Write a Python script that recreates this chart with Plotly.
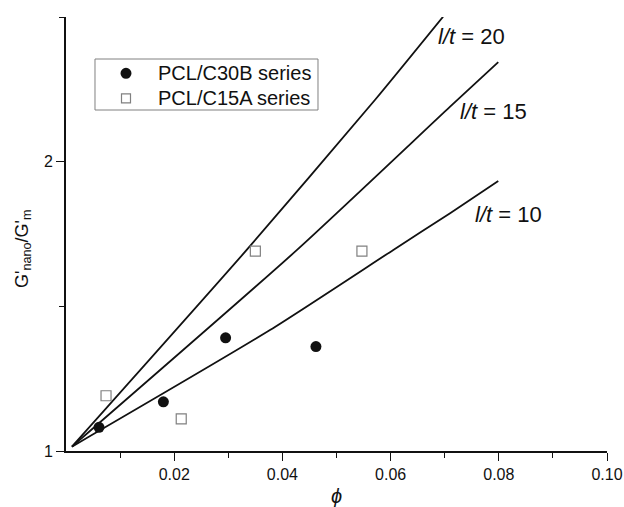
import plotly.graph_objects as go

# Data
c30b_phi = [0.0061, 0.0180, 0.0295, 0.0462]
c30b_g = [1.082, 1.170, 1.391, 1.361]

c15a_phi = [0.0074, 0.0213, 0.0350, 0.0547]
c15a_g = [1.191, 1.111, 1.691, 1.691]

lt10_phi = [0.0011, 0.0377, 0.0605, 0.0710, 0.0799]
lt10_g = [1.015, 1.418, 1.695, 1.822, 1.933]

lt15_phi = [0.0011, 0.0427, 0.0710, 0.0799]
lt15_g = [1.015, 1.695, 2.190, 2.344]

lt20_phi = [0.0011, 0.0334, 0.0571, 0.0697]
lt20_g = [1.015, 1.695, 2.213, 2.501]

line_labels = ["<i>l/t</i> = 20", "<i>l/t</i> = 15", "<i>l/t</i> = 10"]
label_phi = [0.0683, 0.0725, 0.0753]
label_g = [2.434, 2.175, 1.819]

series_names = ["PCL/C30B series", "PCL/C15A series"]

x_tickvals = [0.02, 0.04, 0.06, 0.08, 0.10]
x_ticktext = ["0.02", "0.04", "0.06", "0.08", "0.10"]
y_tickvals = [1, 2]
y_ticktext = ["1", "2"]

FONT = "Arial, Liberation Sans, sans-serif"
INK = "#111111"
GREY = "#808080"

fig = go.Figure()

for xs, ys in [(lt20_phi, lt20_g), (lt15_phi, lt15_g), (lt10_phi, lt10_g)]:
    fig.add_trace(go.Scatter(x=xs, y=ys, mode="lines",
                             line=dict(color=INK, width=1.8, shape="spline", smoothing=0.6),
                             showlegend=False, hoverinfo="skip"))

fig.add_trace(go.Scatter(x=c30b_phi, y=c30b_g, mode="markers",
                         name=series_names[0], showlegend=False,
                         marker=dict(symbol="circle", size=11, color=INK)))
fig.add_trace(go.Scatter(x=c15a_phi, y=c15a_g, mode="markers",
                         name=series_names[1], showlegend=False,
                         marker=dict(symbol="square-open", size=10, color=GREY,
                                     line=dict(width=1.2, color=GREY))))

for t, xx, yy in zip(line_labels, label_phi, label_g):
    fig.add_annotation(x=xx, y=yy, text=t, showarrow=False, xanchor="left",
                       yanchor="middle", font=dict(family=FONT, size=22, color=INK))

# y axis title as rotated annotation
fig.add_annotation(xref="paper", yref="paper", x=-0.080, y=0.465,
                   text="G'<sub>nano</sub>/G'<sub>m</sub>", textangle=-90,
                   showarrow=False, xanchor="center", yanchor="middle",
                   font=dict(family=FONT, size=18, color=INK))

# legend box (drawn manually to match spacing)
fig.add_shape(type="rect", xref="paper", yref="paper",
              x0=0.0536, x1=0.4658, y0=0.7857, y1=0.9032,
              line=dict(color=GREY, width=1), fillcolor="white", layer="below")
fig.add_shape(type="circle", xref="paper", yref="paper",
              xsizemode="pixel", ysizemode="pixel",
              xanchor=0.1109, yanchor=0.8703, x0=-5.5, x1=5.5, y0=-5.5, y1=5.5,
              fillcolor=INK, line=dict(color=INK, width=0))
fig.add_shape(type="rect", xref="paper", yref="paper",
              xsizemode="pixel", ysizemode="pixel",
              xanchor=0.1109, yanchor=0.8127, x0=-4.5, x1=4.5, y0=-4.5, y1=4.5,
              fillcolor="white", line=dict(color=GREY, width=1.2))
for name, yy in zip(series_names, [0.8703, 0.8127]):
    fig.add_annotation(xref="paper", yref="paper", x=0.1664, y=yy, text=name,
                       showarrow=False, xanchor="left", yanchor="middle",
                       font=dict(family=FONT, size=20, color=INK))

fig.update_layout(
    width=624, height=507,
    margin=dict(l=66, r=17, t=17, b=56),
    paper_bgcolor="white", plot_bgcolor="white",
    font=dict(family=FONT, size=16, color=INK),
    showlegend=False,
)

fig.update_xaxes(range=[0, 0.10], showgrid=False, zeroline=False, automargin=False,
                 showline=True, linecolor=INK, linewidth=1.6,
                 ticks="outside", ticklen=8, tickwidth=1.4, tickcolor=INK,
                 tickvals=x_tickvals, ticktext=x_ticktext,
                 tickfont=dict(family=FONT, size=16, color=INK),
                 minor=dict(tickvals=[0.01, 0.03, 0.05, 0.07, 0.09], ticks="outside",
                            ticklen=5, tickwidth=1.4, tickcolor=INK),
                 title=dict(text="<i>ϕ</i>", font=dict(family=FONT, size=20, color=INK),
                            standoff=10))
fig.update_yaxes(range=[1, 2.5], showgrid=False, zeroline=False, automargin=False,
                 showline=True, linecolor=INK, linewidth=1.6,
                 ticks="outside", ticklen=8, tickwidth=1.4, tickcolor=INK,
                 tickvals=y_tickvals, ticktext=y_ticktext,
                 tickfont=dict(family=FONT, size=16, color=INK),
                 minor=dict(tickvals=[1.5, 2.5], ticks="outside",
                            ticklen=5, tickwidth=1.4, tickcolor=INK))

fig.write_html("out.html", config={"displayModeBar": False},
               post_script="document.body.style.margin='0';document.body.style.overflow='hidden';")
